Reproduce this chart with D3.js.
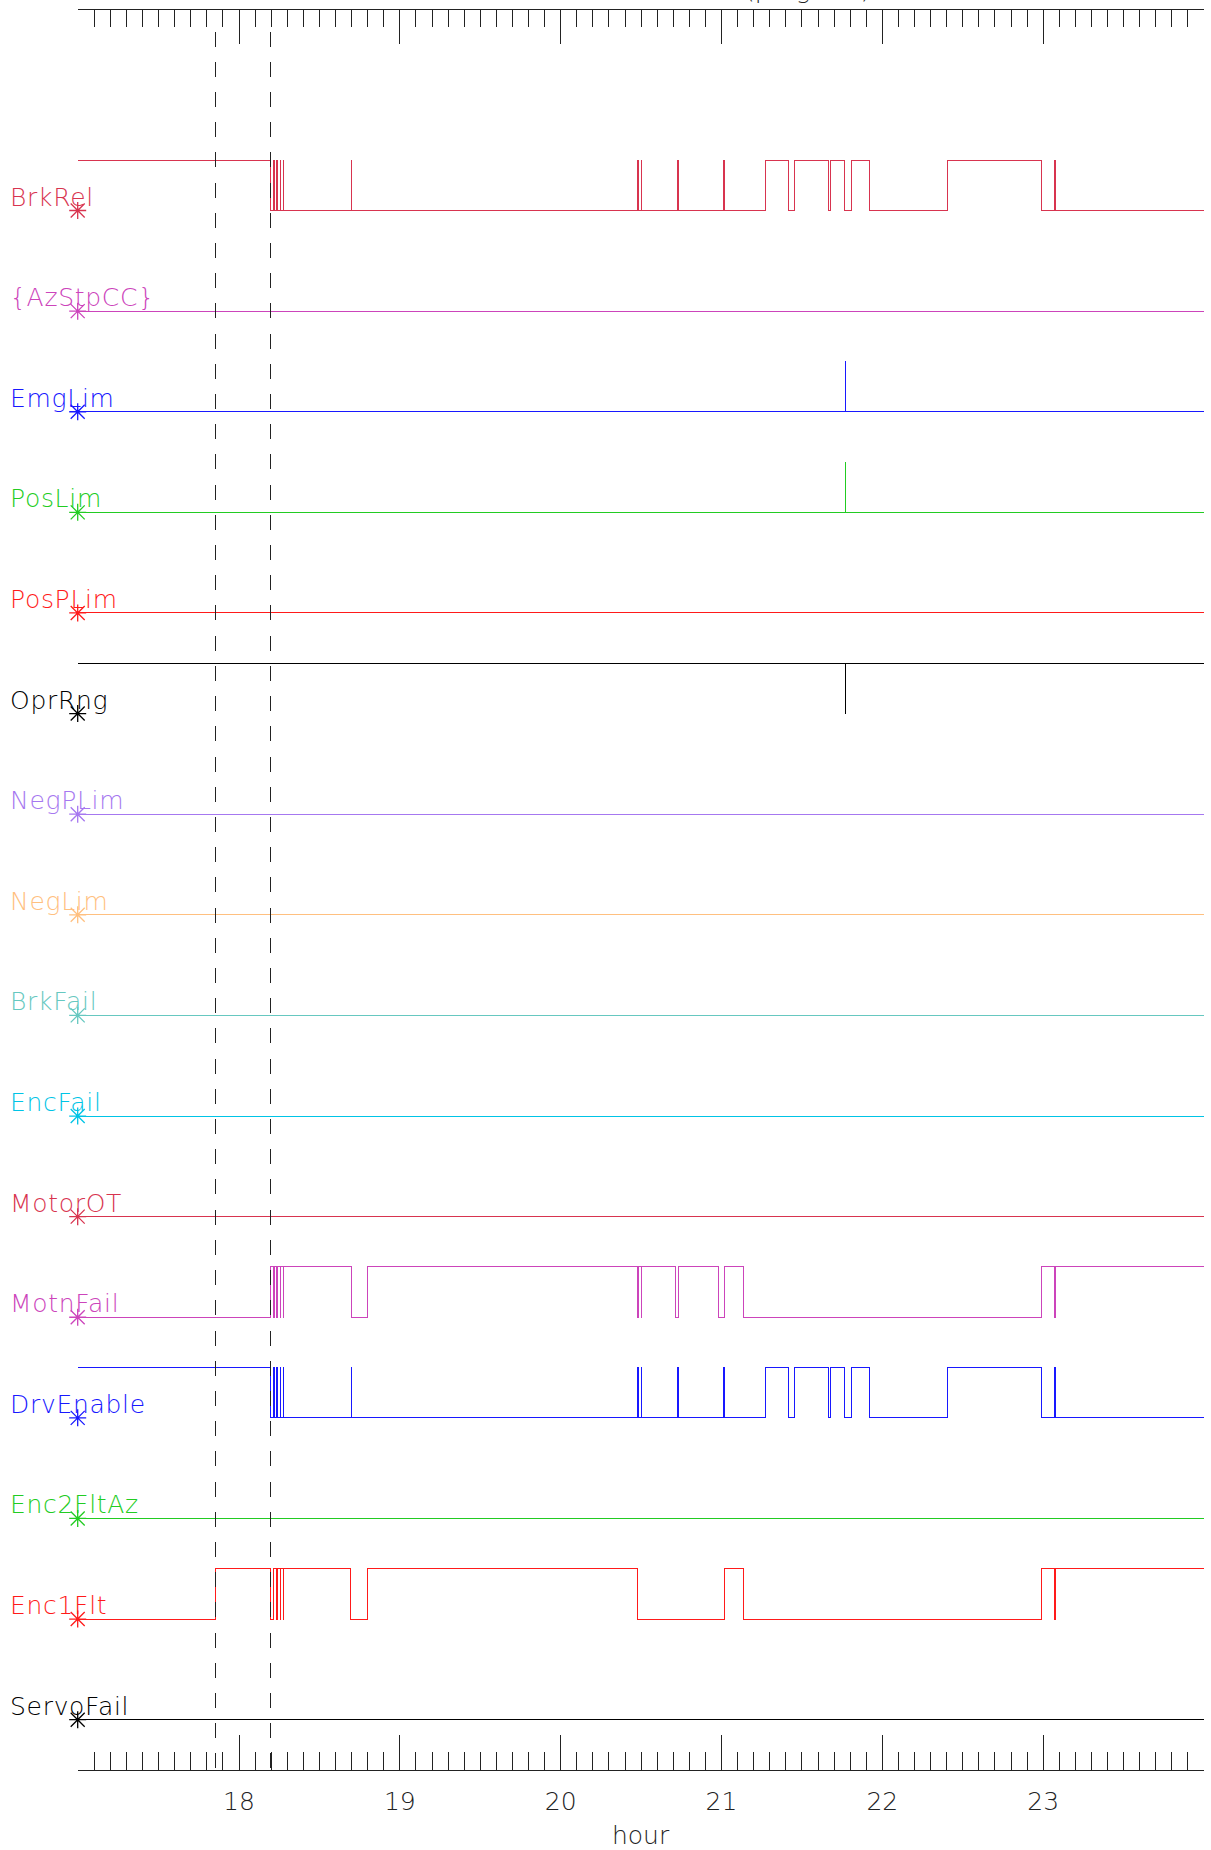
<!DOCTYPE html>
<html><head><meta charset="utf-8">
<script src="https://cdn.jsdelivr.net/npm/d3@7"></script>
<style>
body{margin:0;background:#fff;}
svg{display:block;}
text{font-family:"DejaVu Sans","Noto Sans",sans-serif;}
</style>
</head><body>
<svg id="chart" width="1211" height="1850"></svg>
<script>
// ---------- data ----------
const signalNames = ["BrkRel","{AzStpCC}","EmgLim","PosLim","PosPLim","OprRng","NegPLim","NegLim",
  "BrkFail","EncFail","MotorOT","MotnFail","DrvEnable","Enc2FltAz","Enc1Flt","ServoFail"];
const signalColors = ["#d8344f","#cc44bb","#1818ff","#22cc22","#ff1a1a","#000000","#a678f0","#ffc080",
  "#66c8c0","#00c4e6","#d8344f","#cc44bb","#1818ff","#22cc22","#ff1a1a","#000000"];
const initialStates = [1,0,0,0,0,1,0,0,0,0,0,0,1,0,0,0];

const brkRelEdges = [18.197,18.219,18.222,18.239,18.242,18.258,18.261,18.279,18.282,18.702,18.705,
  20.483,20.486,20.505,20.508,20.732,20.735,21.017,21.020,21.274,21.420,21.458,21.670,21.680,
  21.770,21.812,21.926,22.407,22.992,23.075,23.078];
const azStpCCEdges = [];
const emgLimEdges = [21.773,21.776];
const posLimEdges = [21.773,21.776];
const posPLimEdges = [];
const oprRngEdges = [21.773,21.776];
const negPLimEdges = [];
const negLimEdges = [];
const brkFailEdges = [];
const encFailEdges = [];
const motorOTEdges = [];
const motnFailEdges = [18.197,18.219,18.222,18.239,18.242,18.258,18.261,18.279,18.282,18.702,18.801,
  20.483,20.486,20.505,20.508,20.715,20.735,20.985,21.019,21.140,22.992,23.075,23.078];
const drvEnableEdges = [18.197,18.219,18.222,18.239,18.242,18.258,18.261,18.279,18.282,18.702,18.705,
  20.483,20.486,20.505,20.508,20.732,20.735,21.017,21.020,21.274,21.420,21.458,21.670,21.680,
  21.770,21.812,21.926,22.407,22.992,23.075,23.078];
const enc2FltAzEdges = [];
const enc1FltEdges = [17.858,18.197,18.220,18.239,18.242,18.258,18.261,18.279,18.282,18.697,18.802,
  20.481,21.019,21.140,22.992,23.075,23.078];
const servoFailEdges = [];

const signalEdges = [brkRelEdges,azStpCCEdges,emgLimEdges,posLimEdges,posPLimEdges,oprRngEdges,
  negPLimEdges,negLimEdges,brkFailEdges,encFailEdges,motorOTEdges,motnFailEdges,drvEnableEdges,
  enc2FltAzEdges,enc1FltEdges,servoFailEdges];

const markerTimes = [17.857, 18.199];
const xDomain = [17, 24];
const yDomain = [-0.5, 17];
const majorTicks = [18,19,20,21,22,23];
const minorTicks = d3.range(171, 240).filter(v => v % 10 !== 0).map(v => v / 10);
const xTitle = "hour";
const topTitle = "(program)";

// ---------- layout ----------
const svg = d3.select("#chart");
const x = d3.scaleLinear().domain(xDomain).range([77.7, 1203.5]);
const y = d3.scaleLinear().domain(yDomain).range([1770, 9.3]);
const nRows = signalNames.length;
const axisColor = "#222";

// signals
const line = d3.line().x(d => x(d[0])).y(d => y(d[1])).curve(d3.curveStepAfter);
signalNames.forEach((name, i) => {
  const k = nRows - 1 - i;
  let s = initialStates[i];
  const pts = [[xDomain[0], k + 0.5 * s]];
  signalEdges[i].forEach(t => { s = 1 - s; pts.push([t, k + 0.5 * s]); });
  pts.push([xDomain[1], k + 0.5 * s]);
  svg.append("text")
    .attr("x", 10).attr("y", y(k) - 5)
    .attr("fill", signalColors[i]).attr("font-size", 25)
    .attr("font-weight", 200).attr("letter-spacing", 0.7)
    .text(name);
  svg.append("path").attr("d", line(pts))
    .attr("fill", "none").attr("stroke", signalColors[i]).attr("stroke-width", 1)
    .attr("shape-rendering", "crispEdges");
  svg.append("path")
    .attr("transform", `translate(${x(xDomain[0])},${y(k)})`)
    .attr("d", "M-8.5,0H8.5M0,-8.5V8.5M-7,-7L7,7M-7,7L7,-7")
    .attr("stroke", signalColors[i]).attr("stroke-width", 1.3).attr("fill", "none");
});

// dashed markers
svg.selectAll("line.mark").data(markerTimes).enter().append("line")
  .attr("class", "mark")
  .attr("x1", d => x(d)).attr("x2", d => x(d))
  .attr("y1", 31.5).attr("y2", y(yDomain[0]))
  .attr("stroke", axisColor).attr("stroke-width", 1)
  .attr("stroke-dasharray", "15 15.21")
  .attr("shape-rendering", "crispEdges");

// axes
function drawAxis(gen, yPos) {
  const g = svg.append("g").attr("transform", `translate(0,${yPos})`)
    .attr("shape-rendering", "crispEdges");
  g.call(gen);
  g.attr("color", axisColor);
  return g;
}
drawAxis(d3.axisTop(x).tickValues(minorTicks).tickSize(17.7).tickSizeOuter(0).tickFormat(""), y(yDomain[0]));
const bMajor = drawAxis(d3.axisTop(x).tickValues(majorTicks).tickSize(35).tickSizeOuter(0).tickFormat(d3.format("d")), y(yDomain[0]));
bMajor.selectAll("text").attr("y", 40).attr("dy", 0)
  .attr("font-size", 25).attr("font-weight", 200).attr("fill", "#222")
  .attr("font-family", "DejaVu Sans, sans-serif");

drawAxis(d3.axisBottom(x).tickValues(minorTicks).tickSize(17.7).tickSizeOuter(0).tickFormat(""), y(yDomain[1]));
drawAxis(d3.axisBottom(x).tickValues(majorTicks).tickSize(35).tickSizeOuter(0).tickFormat(""), y(yDomain[1]));

// titles
svg.append("text").attr("x", (x.range()[0] + x.range()[1]) / 2).attr("y", 1844)
  .attr("text-anchor", "middle").attr("font-size", 25).attr("font-weight", 200)
  .attr("fill", "#222").text(xTitle);
svg.append("text").attr("x", 745).attr("y", -2)
  .attr("font-size", 25).attr("font-weight", 200).attr("fill", "#222").text(topTitle);
</script>
</body></html>
